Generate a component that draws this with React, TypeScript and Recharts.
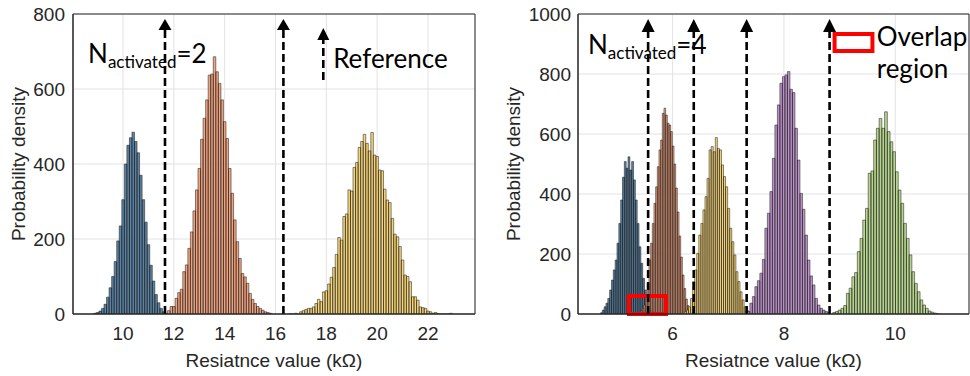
import React from "react"
import {
    Area,
    CartesianGrid,
    ComposedChart,
    Label,
    ReferenceArea,
    ReferenceDot,
    ReferenceLine,
    XAxis,
    YAxis,
} from "recharts"

// Histogram bars: centre of first bin, bin width, bar heights
const leftBlueStart = 8.9
const leftBlueWidth = 0.1
const leftBlue = [2, 4, 8, 15, 26, 45, 70, 100, 140, 195, 235, 305, 400, 450, 470, 485, 460, 430, 370, 305, 245, 185, 130, 88, 52, 30, 15, 6, 2]

const leftOrangeStart = 11.8
const leftOrangeWidth = 0.1
const leftOrange = [9, 20, 20, 42, 57, 66, 113, 131, 175, 219, 275, 331, 388, 466, 522, 571, 637, 640, 686, 646, 615, 571, 513, 468, 388, 322, 251, 193, 148, 108, 99, 82, 55, 39, 28, 20, 15, 10, 6, 4, 2]

const leftYellowStart = 16.6
const leftYellowWidth = 0.1
const leftYellow = [1, 0, 2, 0, 6, 9, 12, 15, 15, 19, 28, 39, 33, 59, 62, 80, 98, 124, 159, 204, 197, 260, 267, 331, 328, 391, 404, 444, 460, 479, 455, 435, 484, 424, 420, 384, 382, 333, 304, 297, 255, 213, 206, 180, 144, 104, 100, 86, 46, 46, 37, 19, 17, 15, 8, 6, 2, 4, 1, 0, 0, 0, 0, 2]

const rightBlueStart = 4.72
const rightBlueWidth = 0.033
const rightBlue = [4, 13, 24, 36, 52, 80, 113, 147, 180, 236, 302, 380, 456, 508, 486, 524, 480, 508, 447, 380, 302, 224, 169, 119, 80, 47, 24, 13, 8]

const rightOrangeStart = 5.44
const rightOrangeWidth = 0.03
const rightOrange = [11, 19, 30, 58, 102, 180, 236, 302, 369, 424, 491, 547, 580, 669, 686, 663, 636, 630, 608, 560, 500, 420, 340, 260, 190, 130, 85, 50, 28, 14, 6, 3]

const rightYellowStart = 6.23
const rightYellowWidth = 0.037
const rightYellow = [8, 13, 24, 52, 108, 147, 202, 263, 302, 347, 391, 452, 547, 558, 541, 588, 552, 547, 497, 458, 424, 352, 286, 241, 197, 141, 108, 74, 47, 24, 13, 8, 4]

const rightPurpleStart = 7.365
const rightPurpleWidth = 0.045
const rightPurple = [8, 36, 58, 91, 111, 136, 182, 286, 336, 408, 519, 630, 697, 769, 791, 797, 808, 749, 738, 619, 513, 402, 349, 263, 180, 127, 97, 52, 30, 19, 13, 8, 4]

const rightGreenStart = 8.902
const rightGreenWidth = 0.049
const rightGreen = [5, 8, 13, 19, 28, 69, 86, 124, 138, 208, 252, 313, 352, 469, 477, 580, 619, 652, 619, 674, 608, 574, 541, 474, 413, 369, 302, 252, 197, 141, 102, 74, 47, 30, 19, 10, 6, 3, 1]

// axes
const leftXDomain = [8.03, 23.85]
const leftXTicks = [10, 12, 14, 16, 18, 20, 22]
const leftYTicks = [0, 200, 400, 600, 800]
const rightXDomain = [4.3, 11.325]
const rightXTicks = [6, 8, 10]
const rightYTicks = [0, 200, 400, 600, 800, 1000]

// threshold (read) levels, dashed arrows
const leftThresholds = [11.65, 16.31]
const rightThresholds = [5.56, 6.38, 7.33, 8.82]

const BLUE = "#4a7699"
const ORANGE = "#ee9a72"
const YELLOW = "#f5cf6c"
const PURPLE = "#b486c2"
const GREEN = "#b0d283"

const AXIS_COLOR = "#262626"
const tickStyle = { fill: AXIS_COLOR, fontSize: 19, fontFamily: "Liberation Sans, Arial, sans-serif" }
const labelStyle = { fill: AXIS_COLOR, fontSize: 19, fontFamily: "Liberation Sans, Arial, sans-serif", textAnchor: "middle" as const }
const noteFont = "Lato, 'Open Sans', sans-serif"

// every bin becomes (l,0) (l,h) (r,h) (r,0) so the area outline draws each bar edge
function toBars(start: number, width: number, heights: number[]) {
    const pts: { x: number; y: number }[] = []
    heights.forEach((h, i) => {
        const l = start - width / 2 + i * width
        const r = l + width
        pts.push({ x: l, y: 0 }, { x: l, y: h }, { x: r, y: h }, { x: r, y: 0 })
    })
    return pts
}

function histArea(key: string, start: number, width: number, heights: number[], color: string) {
    return (
        <Area
            key={key}
            data={toBars(start, width, heights)}
            dataKey="y"
            type="linear"
            fill={color}
            fillOpacity={0.9}
            stroke="#1a1a1a"
            strokeOpacity={0.75}
            strokeWidth={0.7}
            dot={false}
            activeDot={false}
            isAnimationActive={false}
        />
    )
}

const arrowHead = (half: number, h: number) => (p: any) => (
    <path
        d={`M${p.cx},${p.cy - h / 2}L${p.cx + half},${p.cy + h / 2}L${p.cx - half},${p.cy + h / 2}Z`}
        fill="#000"
    />
)

const nLabel = (n: number) => (p: any) => (
    <text x={p.cx} y={p.cy} fontFamily={noteFont} fontSize={26} fill="#000">
        N
        <tspan fontSize={17} dy={5}>activated</tspan>
        <tspan dy={-5}>={n}</tspan>
    </text>
)

const plainLabel = (txt: string) => (p: any) => (
    <text x={p.cx} y={p.cy} fontFamily={noteFont} fontSize={26} fill="#000">
        {txt}
    </text>
)

function dashedArrows(xs: number[], top: number, head: number, half: number, h: number) {
    const out: React.ReactNode[] = []
    xs.forEach((x, i) => {
        out.push(
            <ReferenceLine
                key={"l" + i}
                segment={[{ x, y: 0 }, { x, y: top }]}
                stroke="#000"
                strokeWidth={2.6}
                strokeDasharray="8 4"
            />
        )
        out.push(<ReferenceDot key={"h" + i} x={x} y={head} r={0} shape={arrowHead(half, h)} />)
    })
    return out
}

export default function App() {
    return (
        <div style={{ position: "absolute", left: 0, top: 0, width: 970, height: 376, background: "#fff", overflow: "hidden" }}>
            <div style={{ position: "absolute", left: 0, top: 0 }}>
                <ComposedChart width={490} height={376} margin={{ top: 14, right: 15, bottom: 7, left: 0 }}>
                    <CartesianGrid stroke="#e2e2e2" />
                    <XAxis
                        type="number"
                        dataKey="x"
                        domain={leftXDomain}
                        ticks={leftXTicks}
                        allowDataOverflow
                        height={55}
                        tick={tickStyle}
                        tickLine={false}
                        tickSize={6}
                        tickMargin={7}
                        axisLine={{ stroke: AXIS_COLOR }}
                    >
                        <Label value="Resiatnce value (kΩ)" position="insideBottom" offset={2} style={labelStyle} />
                    </XAxis>
                    <YAxis
                        type="number"
                        domain={[0, 800]}
                        ticks={leftYTicks}
                        allowDataOverflow
                        width={73}
                        tick={tickStyle}
                        tickLine={false}
                        tickSize={6}
                        tickMargin={2}
                        axisLine={{ stroke: AXIS_COLOR }}
                    >
                        <Label value="Probability density" angle={-90} position="insideLeft" offset={18} style={labelStyle} />
                    </YAxis>
                    {histArea("b", leftBlueStart, leftBlueWidth, leftBlue, BLUE)}
                    {histArea("o", leftOrangeStart, leftOrangeWidth, leftOrange, ORANGE)}
                    {histArea("y", leftYellowStart, leftYellowWidth, leftYellow, YELLOW)}
                    <ReferenceDot x={8.622} y={669} r={0} shape={nLabel(2)} />
                    <ReferenceDot x={18.268} y={656} r={0} shape={plainLabel("Reference")} />
                    {dashedArrows(leftThresholds, 760, 772, 6.5, 11)}
                    <ReferenceLine segment={[{ x: 17.88, y: 624 }, { x: 17.88, y: 731 }]} stroke="#000" strokeWidth={2.6} strokeDasharray="8 4" />
                    <ReferenceDot x={17.88} y={747} r={0} shape={arrowHead(6, 12)} />
                    <ReferenceArea x1={8.03} x2={23.85} y1={0} y2={800} fill="none" stroke={AXIS_COLOR} strokeWidth={1} />
                </ComposedChart>
            </div>
            <div style={{ position: "absolute", left: 490, top: 0 }}>
                <ComposedChart width={480} height={376} margin={{ top: 14, right: 1, bottom: 7, left: 0 }}>
                    <CartesianGrid stroke="#e2e2e2" />
                    <XAxis
                        type="number"
                        dataKey="x"
                        domain={rightXDomain}
                        ticks={rightXTicks}
                        allowDataOverflow
                        height={55}
                        tick={tickStyle}
                        tickLine={false}
                        tickSize={6}
                        tickMargin={7}
                        axisLine={{ stroke: AXIS_COLOR }}
                    >
                        <Label value="Resiatnce value (kΩ)" position="insideBottom" offset={2} style={labelStyle} />
                    </XAxis>
                    <YAxis
                        type="number"
                        domain={[0, 1000]}
                        ticks={rightYTicks}
                        allowDataOverflow
                        width={88}
                        tick={tickStyle}
                        tickLine={false}
                        tickSize={6}
                        tickMargin={1}
                        axisLine={{ stroke: AXIS_COLOR }}
                    >
                        <Label value="Probability density" angle={-90} position="insideLeft" offset={23} style={labelStyle} />
                    </YAxis>
                    {histArea("b", rightBlueStart, rightBlueWidth, rightBlue, BLUE)}
                    {histArea("o", rightOrangeStart, rightOrangeWidth, rightOrange, ORANGE)}
                    {histArea("y", rightYellowStart, rightYellowWidth, rightYellow, YELLOW)}
                    {histArea("p", rightPurpleStart, rightPurpleWidth, rightPurple, PURPLE)}
                    {histArea("g", rightGreenStart, rightGreenWidth, rightGreen, GREEN)}
                    <ReferenceDot x={4.479} y={867} r={0} shape={nLabel(4)} />
                    <ReferenceDot x={9.667} y={893} r={0} shape={plainLabel("Overlap")} />
                    <ReferenceDot x={9.667} y={787} r={0} shape={plainLabel("region")} />
                    {dashedArrows(rightThresholds, 940, 962, 6.5, 13)}
                    <ReferenceArea x1={5.215} x2={5.88} y1={0} y2={60} fill="none" stroke="#ff0000" strokeWidth={4} />
                    <ReferenceArea x1={8.91} x2={9.59} y1={877} y2={933} fill="none" stroke="#ff0000" strokeWidth={4} />
                    <ReferenceArea x1={4.3} x2={11.325} y1={0} y2={1000} fill="none" stroke={AXIS_COLOR} strokeWidth={1} />
                </ComposedChart>
            </div>
        </div>
    )
}
